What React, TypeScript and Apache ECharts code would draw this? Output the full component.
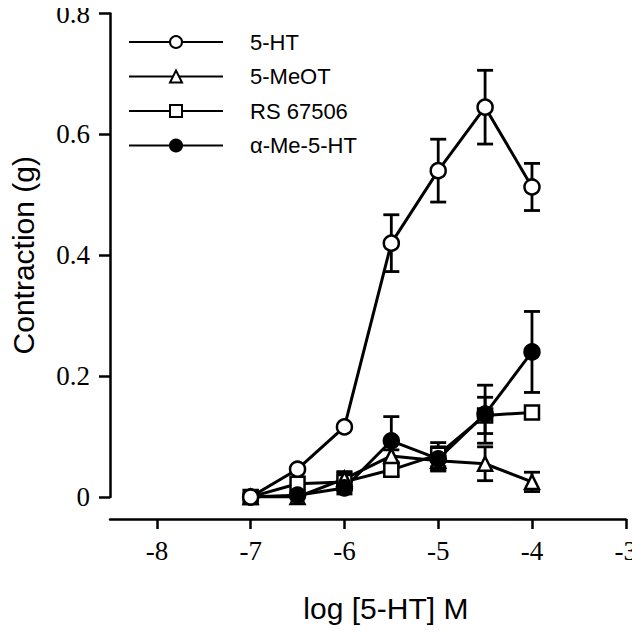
import React, { useEffect, useRef } from "react";
import * as echarts from "echarts";

const logConc = [-7, -6.5, -6, -5.5, -5, -4.5, -4];
const seriesNames = ["5-HT", "5-MeOT", "RS 67506", "α-Me-5-HT"];
const ht5 = [0.0, 0.046, 0.116, 0.42, 0.54, 0.645, 0.513];
const ht5Err = [0, 0, 0, 0.047, 0.052, 0.061, 0.039];
const meot = [0.0, 0.0, 0.03, 0.068, 0.06, 0.055, 0.025];
const meotErr = [0, 0, 0.012, 0.01, 0.015, 0.028, 0.016];
const rs = [0.0, 0.022, 0.025, 0.045, 0.07, 0.135, 0.14];
const rsErr = [0, 0, 0.015, 0.01, 0.02, 0.03, 0];
const ame = [0.0, 0.003, 0.015, 0.093, 0.063, 0.137, 0.24];
const ameErr = [0, 0, 0.01, 0.04, 0.02, 0.048, 0.067];
const xTicks = [-8, -7, -6, -5, -4, -3];

export default function App() {
  const ref = useRef<HTMLDivElement>(null);
  useEffect(() => {
    if (!ref.current) return;
    const chart = echarts.init(ref.current, null, { renderer: "svg" });
    const pts = (v: number[]) => logConc.map((x, i) => [x, v[i]]);
    const errData = (v: number[], e: number[]) =>
      logConc
        .map((x, i) => [x, v[i] - e[i], v[i] + e[i]])
        .filter((_, i) => e[i] > 0);
    const errSeries = (v: number[], e: number[]) => ({
      type: "custom",
      data: errData(v, e),
      z: 1,
      silent: true,
      renderItem: (params: any, api: any) => {
        const x = api.value(0);
        const lo = api.coord([x, api.value(1)]);
        const hi = api.coord([x, api.value(2)]);
        const w = 8;
        const st = { stroke: "#000", lineWidth: 2.8 };
        return {
          type: "group",
          children: [
            { type: "line", shape: { x1: lo[0], y1: lo[1], x2: hi[0], y2: hi[1] }, style: st },
            { type: "line", shape: { x1: lo[0] - w, y1: lo[1], x2: lo[0] + w, y2: lo[1] }, style: st },
            { type: "line", shape: { x1: hi[0] - w, y1: hi[1], x2: hi[0] + w, y2: hi[1] }, style: st },
          ],
        };
      },
    });
    const lineSeries = (name: string, v: number[], symbol: string, fill: string, size: number) => ({
      type: "line",
      name,
      data: pts(v),
      symbol,
      symbolSize: size,
      showAllSymbol: true,
      z: 3,
      lineStyle: { color: "#000", width: 3 },
      itemStyle: { color: fill, borderColor: "#000", borderWidth: 2.5 },
    });
    chart.setOption({
      animation: false,
      backgroundColor: "#fff",
      grid: { left: 107, right: 10, top: 13, bottom: 136 },
      legend: {
        data: seriesNames,
        orient: "vertical",
        left: 128,
        top: 31,
        padding: 0,
        itemWidth: 94,
        itemHeight: 15,
        itemGap: 12.5,
        textStyle: {
          fontFamily: "Liberation Sans, Arial, sans-serif",
          fontSize: 22,
          color: "#000",
          padding: [0, 0, 0, 22],
        },
      },
      xAxis: {
        type: "value",
        min: -8.5,
        max: -3,
        offset: 22,
        splitLine: { show: false },
        axisLine: { show: true, onZero: false, lineStyle: { color: "#000", width: 2.5 } },
        axisTick: { show: true, customValues: xTicks, length: 10, lineStyle: { color: "#000", width: 2.5 } },
        axisLabel: {
          customValues: xTicks,
          margin: 18,
          color: "#000",
          fontFamily: "Liberation Serif, Times New Roman, serif",
          fontSize: 27,
        },
        name: "log [5-HT] M",
        nameLocation: "middle",
        nameGap: 74,
        nameTextStyle: {
          color: "#000",
          fontFamily: "Liberation Sans, Arial, sans-serif",
          fontSize: 30,
          padding: [0, 0, 0, 36],
        },
      },
      yAxis: {
        type: "value",
        min: 0,
        max: 0.8,
        interval: 0.2,
        splitLine: { show: false },
        axisLine: { show: true, lineStyle: { color: "#000", width: 2.5 } },
        axisTick: { show: true, length: 11, lineStyle: { color: "#000", width: 2.5 } },
        axisLabel: {
          margin: 20,
          color: "#000",
          fontFamily: "Liberation Serif, Times New Roman, serif",
          fontSize: 27,
        },
        name: "Contraction (g)",
        nameLocation: "middle",
        nameRotate: 90,
        nameGap: 72,
        nameTextStyle: {
          color: "#000",
          fontFamily: "Liberation Sans, Arial, sans-serif",
          fontSize: 30,
        },
      },
      series: [
        errSeries(ht5, ht5Err),
        errSeries(meot, meotErr),
        errSeries(rs, rsErr),
        errSeries(ame, ameErr),
        lineSeries("RS 67506", rs, "rect", "#fff", 14),
        lineSeries("5-MeOT", meot, "triangle", "#fff", 14),
        lineSeries("α-Me-5-HT", ame, "circle", "#000", 15),
        lineSeries("5-HT", ht5, "circle", "#fff", 15),
      ],
    });
    return () => chart.dispose();
  }, []);
  return <div ref={ref} style={{ width: 640, height: 633, margin: -8 }} />;
}
